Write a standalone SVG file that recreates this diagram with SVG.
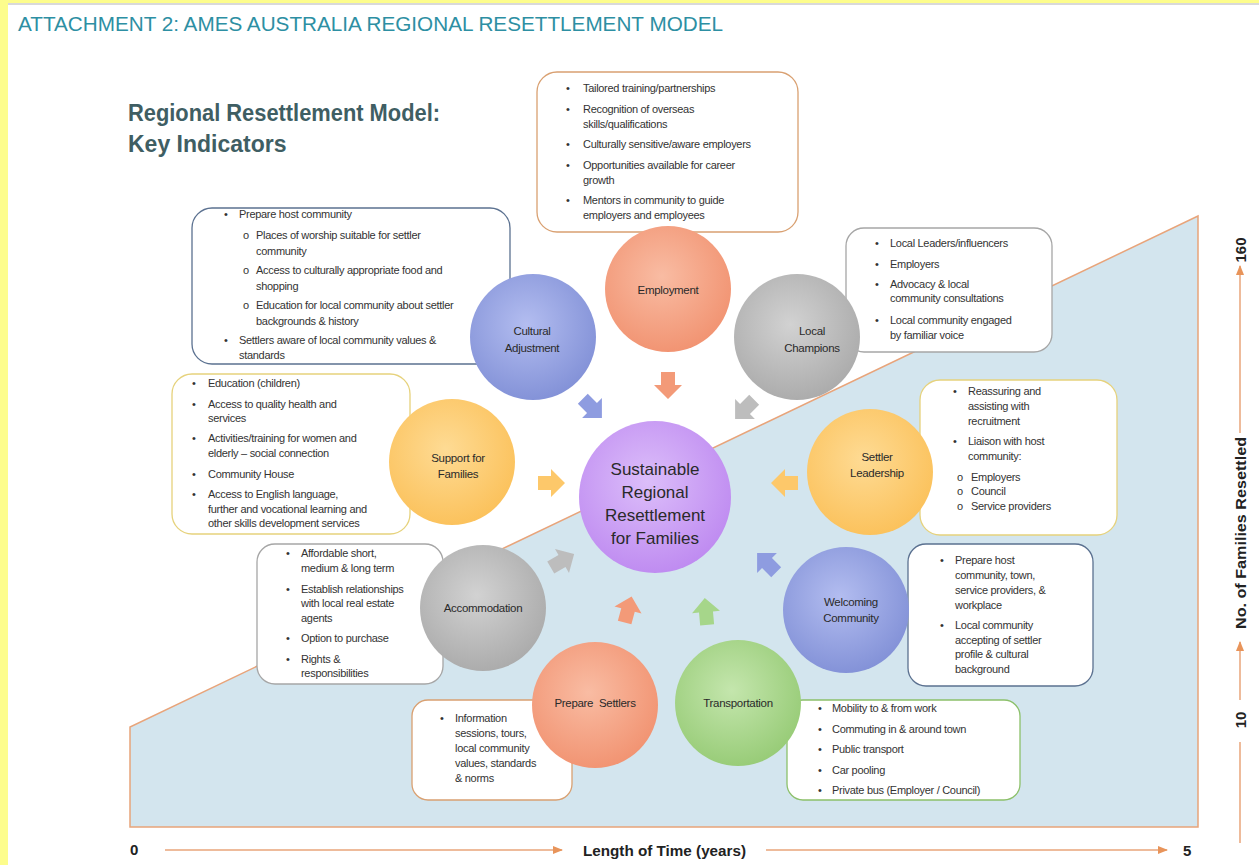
<svg xmlns="http://www.w3.org/2000/svg" width="1259" height="865" viewBox="0 0 1259 865">
  <defs>
    <radialGradient id="gSalmon" cx="0.45" cy="0.4" r="0.65">
      <stop offset="0" stop-color="#f9bca3"/><stop offset="1" stop-color="#f1916f"/>
    </radialGradient>
    <radialGradient id="gGray" cx="0.45" cy="0.4" r="0.65">
      <stop offset="0" stop-color="#d2d2d2"/><stop offset="1" stop-color="#a9a9a9"/>
    </radialGradient>
    <radialGradient id="gYellow" cx="0.45" cy="0.4" r="0.65">
      <stop offset="0" stop-color="#fedb94"/><stop offset="1" stop-color="#fbc058"/>
    </radialGradient>
    <radialGradient id="gBlue" cx="0.45" cy="0.4" r="0.65">
      <stop offset="0" stop-color="#b3bdf0"/><stop offset="1" stop-color="#808fd6"/>
    </radialGradient>
    <radialGradient id="gGreen" cx="0.45" cy="0.4" r="0.65">
      <stop offset="0" stop-color="#c4e6ad"/><stop offset="1" stop-color="#95ca74"/>
    </radialGradient>
    <radialGradient id="gPurple" cx="0.45" cy="0.4" r="0.65">
      <stop offset="0" stop-color="#dcbefa"/><stop offset="1" stop-color="#bd88f0"/>
    </radialGradient>
    <path id="blk" d="M-13,-7 L0,-7 L0,-14 L14,0 L0,14 L0,7 L-13,7 Z"/>
    <marker id="axArrow" viewBox="0 0 10 10" refX="9" refY="5" markerWidth="7" markerHeight="7" orient="auto">
      <path d="M0,1 L10,5 L0,9 Z" fill="#e8945a"/>
    </marker>
  </defs>
  <style>
    .box { fill: #ffffff; stroke-width: 1.3; }
    .bx { font-family: "Liberation Sans", Arial, sans-serif; font-size: 11px; fill: #333333; letter-spacing: -0.3px; }
    .lbl { font-family: "Liberation Sans", Arial, sans-serif; font-size: 11.5px; fill: #2a2a2a; text-anchor: middle; letter-spacing: -0.3px; }
    .ctr { font-family: "Liberation Sans", Arial, sans-serif; font-size: 17px; fill: #2a2a2a; text-anchor: middle; }
    .ax { font-family: "Liberation Sans", Arial, sans-serif; font-size: 15px; font-weight: bold; fill: #222222; }
    .axl { stroke: #e8a47a; stroke-width: 1.5; fill: none; }
  </style>

  <!-- page frame -->
  <rect x="0" y="0" width="1259" height="865" fill="#ffffff"/>
  <rect x="0" y="0" width="1259" height="3" fill="#fdfd8c"/>
  <rect x="0" y="0" width="8" height="865" fill="#fdfd8c"/>
  <line x1="8" y1="4" x2="1259" y2="4" stroke="#cccccc" stroke-width="1.5"/>

  <!-- headings -->
  <text x="18" y="31" font-family="Liberation Sans, Arial, sans-serif" font-size="20" fill="#2d8fa3" textLength="705" lengthAdjust="spacingAndGlyphs">ATTACHMENT 2: AMES AUSTRALIA REGIONAL RESETTLEMENT MODEL</text>
  <g font-family="Liberation Sans, Arial, sans-serif" font-size="23" font-weight="bold" fill="#3f5e63">
    <text x="128" y="121" textLength="312" lengthAdjust="spacingAndGlyphs">Regional Resettlement Model:</text>
    <text x="128" y="152">Key Indicators</text>
  </g>

  <!-- growth area -->
  <polygon points="130,827 130,727 1198,216 1198,827" fill="#d3e5ee" stroke="#e8a47a" stroke-width="1.5"/>

  <!-- axes -->
  <g id="axes">
    <text class="ax" x="130" y="855">0</text>
    <line class="axl" x1="165" y1="850" x2="562" y2="850" marker-end="url(#axArrow)"/>
    <text class="ax" x="583" y="856" textLength="163" lengthAdjust="spacingAndGlyphs">Length of Time (years)</text>
    <line class="axl" x1="766" y1="850" x2="1167" y2="850" marker-end="url(#axArrow)"/>
    <text class="ax" x="1183" y="856">5</text>
    <line class="axl" x1="1240" y1="843" x2="1240" y2="742"/>
    <text class="ax" transform="translate(1246,720) rotate(-90)" text-anchor="middle">10</text>
    <line class="axl" x1="1240" y1="700" x2="1240" y2="642" marker-end="url(#axArrow)"/>
    <text class="ax" transform="translate(1246,533) rotate(-90)" text-anchor="middle" textLength="192" lengthAdjust="spacingAndGlyphs">No. of Families Resettled</text>
    <line class="axl" x1="1240" y1="433" x2="1240" y2="266" marker-end="url(#axArrow)"/>
    <text class="ax" transform="translate(1246,250) rotate(-90)" text-anchor="middle">160</text>
  </g>

  <!-- indicator boxes -->
  <g id="box-employment">
    <rect class="box" x="537" y="72" width="261" height="160" rx="20" stroke="#d9a071"/>
    <g class="bx">
      <text x="566" y="92">•</text><text x="583" y="92">Tailored training/partnerships</text>
      <text x="566" y="113">•</text><text x="583" y="113">Recognition of overseas</text>
      <text x="583" y="128">skills/qualifications</text>
      <text x="566" y="148">•</text><text x="583" y="148">Culturally sensitive/aware employers</text>
      <text x="566" y="169">•</text><text x="583" y="169">Opportunities available for career</text>
      <text x="583" y="184">growth</text>
      <text x="566" y="204">•</text><text x="583" y="204">Mentors in community to guide</text>
      <text x="583" y="219">employers and employees</text>
    </g>
  </g>
  <g id="box-cultural">
    <rect class="box" x="192" y="208" width="318" height="156" rx="20" stroke="#5b7190"/>
    <g class="bx">
      <text x="224" y="218">•</text><text x="239" y="218">Prepare host community</text>
      <text x="243" y="239">o</text><text x="256" y="239">Places of worship suitable for settler</text>
      <text x="256" y="255">community</text>
      <text x="243" y="274">o</text><text x="256" y="274">Access to culturally appropriate food and</text>
      <text x="256" y="290">shopping</text>
      <text x="243" y="309">o</text><text x="256" y="309">Education for local community about settler</text>
      <text x="256" y="325">backgrounds &amp; history</text>
      <text x="224" y="344">•</text><text x="239" y="344">Settlers aware of local community values &amp;</text>
      <text x="239" y="359">standards</text>
    </g>
  </g>
  <g id="box-champions">
    <rect class="box" x="846" y="228" width="206" height="124" rx="18" stroke="#a6a6a6"/>
    <g class="bx">
      <text x="875" y="247">•</text><text x="890" y="247">Local Leaders/influencers</text>
      <text x="875" y="268">•</text><text x="890" y="268">Employers</text>
      <text x="875" y="288">•</text><text x="890" y="288">Advocacy &amp; local</text>
      <text x="890" y="302">community consultations</text>
      <text x="875" y="324">•</text><text x="890" y="324">Local community engaged</text>
      <text x="890" y="339">by familiar voice</text>
    </g>
  </g>
  <g id="box-support">
    <rect class="box" x="172" y="374" width="238" height="160" rx="20" stroke="#e6d27c"/>
    <g class="bx">
      <text x="192" y="387">•</text><text x="208" y="387">Education (children)</text>
      <text x="192" y="408">•</text><text x="208" y="408">Access to quality health and</text>
      <text x="208" y="422">services</text>
      <text x="192" y="442">•</text><text x="208" y="442">Activities/training for women and</text>
      <text x="208" y="457">elderly – social connection</text>
      <text x="192" y="478">•</text><text x="208" y="478">Community House</text>
      <text x="192" y="498">•</text><text x="208" y="498">Access to English language,</text>
      <text x="208" y="513">further and vocational learning and</text>
      <text x="208" y="527">other skills development services</text>
    </g>
  </g>
  <g id="box-leadership">
    <rect class="box" x="920" y="380" width="197" height="155" rx="20" stroke="#e6d27c"/>
    <g class="bx">
      <text x="953" y="395">•</text><text x="968" y="395">Reassuring and</text>
      <text x="968" y="410">assisting with</text>
      <text x="968" y="425">recruitment</text>
      <text x="953" y="445">•</text><text x="968" y="445">Liaison with host</text>
      <text x="968" y="460">community:</text>
      <text x="957" y="481">o</text><text x="971" y="481">Employers</text>
      <text x="957" y="495">o</text><text x="971" y="495">Council</text>
      <text x="957" y="510">o</text><text x="971" y="510">Service providers</text>
    </g>
  </g>
  <g id="box-accommodation">
    <rect class="box" x="257" y="544" width="186" height="140" rx="18" stroke="#a6a6a6"/>
    <g class="bx">
      <text x="286" y="557">•</text><text x="301" y="557">Affordable short,</text>
      <text x="301" y="572">medium &amp; long term</text>
      <text x="286" y="593">•</text><text x="301" y="593">Establish relationships</text>
      <text x="301" y="607">with local real estate</text>
      <text x="301" y="622">agents</text>
      <text x="286" y="642">•</text><text x="301" y="642">Option to purchase</text>
      <text x="286" y="663">•</text><text x="301" y="663">Rights &amp;</text>
      <text x="301" y="677">responsibilities</text>
    </g>
  </g>
  <g id="box-welcoming">
    <rect class="box" x="908" y="544" width="185" height="142" rx="18" stroke="#5b7190"/>
    <g class="bx">
      <text x="940" y="564">•</text><text x="955" y="564">Prepare host</text>
      <text x="955" y="579">community, town,</text>
      <text x="955" y="594">service providers, &amp;</text>
      <text x="955" y="609">workplace</text>
      <text x="940" y="629">•</text><text x="955" y="629">Local community</text>
      <text x="955" y="644">accepting of settler</text>
      <text x="955" y="658">profile &amp; cultural</text>
      <text x="955" y="673">background</text>
    </g>
  </g>
  <g id="box-prepare">
    <rect class="box" x="412" y="700" width="160" height="100" rx="16" stroke="#d9a071"/>
    <g class="bx">
      <text x="440" y="722">•</text><text x="455" y="722">Information</text>
      <text x="455" y="737">sessions, tours,</text>
      <text x="455" y="752">local community</text>
      <text x="455" y="767">values, standards</text>
      <text x="455" y="782">&amp; norms</text>
    </g>
  </g>
  <g id="box-transport">
    <rect class="box" x="787" y="700" width="233" height="100" rx="16" stroke="#8cc06a"/>
    <g class="bx">
      <text x="818" y="712">•</text><text x="832" y="712">Mobility to &amp; from work</text>
      <text x="818" y="733">•</text><text x="832" y="733">Commuting in &amp; around town</text>
      <text x="818" y="753">•</text><text x="832" y="753">Public transport</text>
      <text x="818" y="774">•</text><text x="832" y="774">Car pooling</text>
      <text x="818" y="794">•</text><text x="832" y="794">Private bus (Employer / Council)</text>
    </g>
  </g>

  <!-- indicator circles -->
  <g id="employment">
    <circle cx="668" cy="289" r="63" fill="url(#gSalmon)"/>
    <text class="lbl" x="668" y="294">Employment</text>
  </g>
  <g id="local-champions">
    <circle cx="797" cy="337" r="63" fill="url(#gGray)"/>
    <text class="lbl" x="812" y="335">Local</text>
    <text class="lbl" x="812" y="352">Champions</text>
  </g>
  <g id="settler-leadership">
    <circle cx="870" cy="472" r="63" fill="url(#gYellow)"/>
    <text class="lbl" x="877" y="461">Settler</text>
    <text class="lbl" x="877" y="477">Leadership</text>
  </g>
  <g id="welcoming-community">
    <circle cx="846" cy="610" r="63" fill="url(#gBlue)"/>
    <text class="lbl" x="851" y="606">Welcoming</text>
    <text class="lbl" x="851" y="622">Community</text>
  </g>
  <g id="transportation">
    <circle cx="738" cy="703" r="63" fill="url(#gGreen)"/>
    <text class="lbl" x="738" y="707">Transportation</text>
  </g>
  <g id="prepare-settlers">
    <circle cx="595" cy="705" r="63" fill="url(#gSalmon)"/>
    <text class="lbl" x="595" y="707" xml:space="preserve">Prepare  Settlers</text>
  </g>
  <g id="accommodation">
    <circle cx="483" cy="608" r="63" fill="url(#gGray)"/>
    <text class="lbl" x="483" y="612">Accommodation</text>
  </g>
  <g id="support-for-families">
    <circle cx="452" cy="462" r="63" fill="url(#gYellow)"/>
    <text class="lbl" x="458" y="462">Support for</text>
    <text class="lbl" x="458" y="478">Families</text>
  </g>
  <g id="cultural-adjustment">
    <circle cx="533" cy="337" r="63" fill="url(#gBlue)"/>
    <text class="lbl" x="532" y="335">Cultural</text>
    <text class="lbl" x="532" y="352">Adjustment</text>
  </g>
  <g id="centre">
    <circle cx="655" cy="497" r="76" fill="url(#gPurple)"/>
    <text class="ctr" x="655" y="475">Sustainable</text>
    <text class="ctr" x="655" y="498">Regional</text>
    <text class="ctr" x="655" y="521">Resettlement</text>
    <text class="ctr" x="655" y="544">for Families</text>
  </g>

  <!-- connectors: block arrows into the centre -->
  <g id="connectors">
    <use href="#blk" transform="translate(668,385) rotate(90)" fill="#f39a78"/>
    <use href="#blk" transform="translate(745,409) rotate(135)" fill="#bdbdbd"/>
    <use href="#blk" transform="translate(785,483) rotate(180)" fill="#fdc86a"/>
    <use href="#blk" transform="translate(767,563) rotate(225)" fill="#8e9ce0"/>
    <use href="#blk" transform="translate(706,612) rotate(265)" fill="#a6d68a"/>
    <use href="#blk" transform="translate(628,610) rotate(285)" fill="#f39a78"/>
    <use href="#blk" transform="translate(562,561) rotate(330)" fill="#bdbdbd"/>
    <use href="#blk" transform="translate(551,483) rotate(0)" fill="#fdc86a"/>
    <use href="#blk" transform="translate(592,408) rotate(45)" fill="#8e9ce0"/>
  </g>
</svg>
